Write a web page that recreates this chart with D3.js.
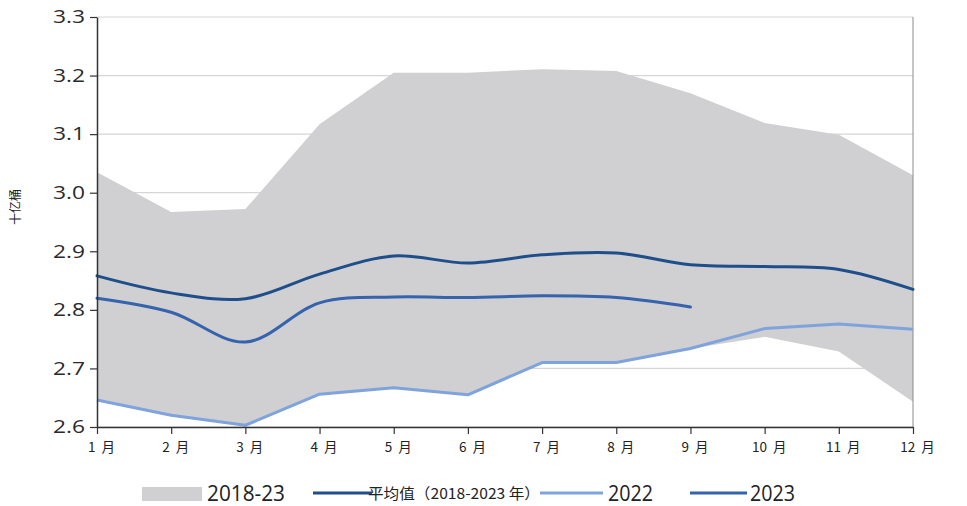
<!DOCTYPE html>
<html><head><meta charset="utf-8">
<script src="https://cdn.jsdelivr.net/npm/d3@7"></script>
<style>
body{margin:0;background:#fff;}
svg{display:block;}
</style></head>
<body><svg id="c" width="967" height="506"></svg>
<script>
const months = ["1 月","2 月","3 月","4 月","5 月","6 月","7 月","8 月","9 月","10 月","11 月","12 月"];
const bandUpper = [3.035,2.967,2.972,3.117,3.205,3.205,3.211,3.208,3.170,3.119,3.099,3.030];
const bandLower = [2.646,2.620,2.603,2.656,2.667,2.655,2.710,2.710,2.734,2.754,2.729,2.643];
const avgSeries = [2.858,2.829,2.819,2.861,2.892,2.880,2.894,2.897,2.877,2.874,2.869,2.835];
const s2022 = [2.646,2.620,2.603,2.656,2.667,2.655,2.710,2.710,2.734,2.768,2.776,2.767];
const s2023 = [2.820,2.796,2.745,2.812,2.822,2.821,2.824,2.821,2.805];
const yTicks = [2.6,2.7,2.8,2.9,3.0,3.1,3.2,3.3];
const yTitle = "十亿桶";
const legendLabels = ["2018-23","平均值（2018-2023 年）","2022","2023"];

const svg = d3.select("#c");
const L = 97, R = 913, T = 17, B = 427;
const x = d3.scalePoint().domain(d3.range(12)).range([L, R]);
const y = d3.scaleLinear().domain([2.6, 3.3]).range([B, T]);

const numFont = "'Open Sans','Liberation Sans',sans-serif";
const cjkFont = "'Noto Sans CJK SC',sans-serif";

// gridlines
svg.append("g").selectAll("line").data(yTicks).join("line")
  .attr("x1", L).attr("x2", R).attr("y1", d => y(d)).attr("y2", d => y(d))
  .attr("stroke", "#d6d6d6").attr("stroke-width", 1.2);

// band
const area = d3.area().x((d,i) => x(i)).y0((d,i) => y(bandLower[i])).y1(d => y(d));
svg.append("path").datum(bandUpper).attr("d", area).attr("fill", "#d0cfd1");

// right border
svg.append("line").attr("x1", R).attr("x2", R).attr("y1", T).attr("y2", B)
  .attr("stroke", "#8c8c8c").attr("stroke-width", 1);

// lines
const smooth = d3.line().x((d,i) => x(i)).y(d => y(d)).curve(d3.curveCatmullRom.alpha(0.5));
const straight = d3.line().x((d,i) => x(i)).y(d => y(d));
svg.append("path").datum(s2022).attr("d", straight).attr("fill","none")
  .attr("stroke","#7fa3dc").attr("stroke-width",3).attr("stroke-linejoin","round");
svg.append("path").datum(avgSeries).attr("d", smooth).attr("fill","none")
  .attr("stroke","#1f4f8a").attr("stroke-width",3).attr("stroke-linecap","round");
svg.append("path").datum(s2023).attr("d", smooth).attr("fill","none")
  .attr("stroke","#3563ad").attr("stroke-width",3).attr("stroke-linecap","round");

// y axis
const yAxis = d3.axisLeft(y).tickValues(yTicks).tickFormat(d3.format(".1f")).tickSize(7).tickSizeOuter(0);
const gy = svg.append("g").attr("transform", `translate(${L},0)`).call(yAxis);
gy.select(".domain").attr("stroke","#333").attr("stroke-width",1.5);
gy.selectAll(".tick line").attr("stroke","#333").attr("stroke-width",1.2);
gy.selectAll(".tick text").attr("font-family", numFont).attr("font-size", 18).attr("fill","#2a2a2a").attr("x",-12)
  .attr("textLength",32).attr("lengthAdjust","spacingAndGlyphs");

// x axis
const xAxis = d3.axisBottom(x).tickFormat(i => months[i]).tickSize(7).tickSizeOuter(0);
const gx = svg.append("g").attr("transform", `translate(0,${B})`).call(xAxis);
gx.select(".domain").attr("stroke","#333").attr("stroke-width",1.5);
gx.selectAll(".tick line").attr("stroke","#333").attr("stroke-width",1.2);
gx.selectAll(".tick text").attr("font-family",cjkFont).attr("font-size",13.5)
  .attr("fill","#222").attr("dx",4).attr("y",15).attr("word-spacing", 3);

// y title
svg.append("text").attr("transform","translate(20,207) rotate(-90)").attr("text-anchor","middle")
  .attr("font-family",cjkFont).attr("font-size",12).attr("fill","#222").text(yTitle);

// legend
const lg = svg.append("g");
const ly = 493;
lg.append("rect").attr("x",142).attr("y",487).attr("width",60).attr("height",14).attr("fill","#d0cfd1");
lg.append("text").attr("x",207).attr("y",501).attr("font-family",numFont).attr("font-size",21).attr("fill","#222")
  .attr("textLength",78).attr("lengthAdjust","spacingAndGlyphs").text(legendLabels[0]);
lg.append("line").attr("x1",313).attr("x2",372).attr("y1",ly).attr("y2",ly).attr("stroke","#1f4f8a").attr("stroke-width",3);
lg.append("text").attr("x",368).attr("y",499).attr("font-family",cjkFont).attr("font-size",15).attr("fill","#222")
  .attr("textLength",172).attr("lengthAdjust","spacingAndGlyphs").text(legendLabels[1]);
lg.append("line").attr("x1",540).attr("x2",603).attr("y1",ly).attr("y2",ly).attr("stroke","#7fa3dc").attr("stroke-width",3);
lg.append("text").attr("x",608).attr("y",501).attr("font-family",numFont).attr("font-size",21).attr("fill","#222")
  .attr("textLength",45).attr("lengthAdjust","spacingAndGlyphs").text(legendLabels[2]);
lg.append("line").attr("x1",690).attr("x2",747).attr("y1",ly).attr("y2",ly).attr("stroke","#3563ad").attr("stroke-width",3);
lg.append("text").attr("x",750).attr("y",501).attr("font-family",numFont).attr("font-size",21).attr("fill","#222")
  .attr("textLength",45).attr("lengthAdjust","spacingAndGlyphs").text(legendLabels[3]);
</script></body></html>
